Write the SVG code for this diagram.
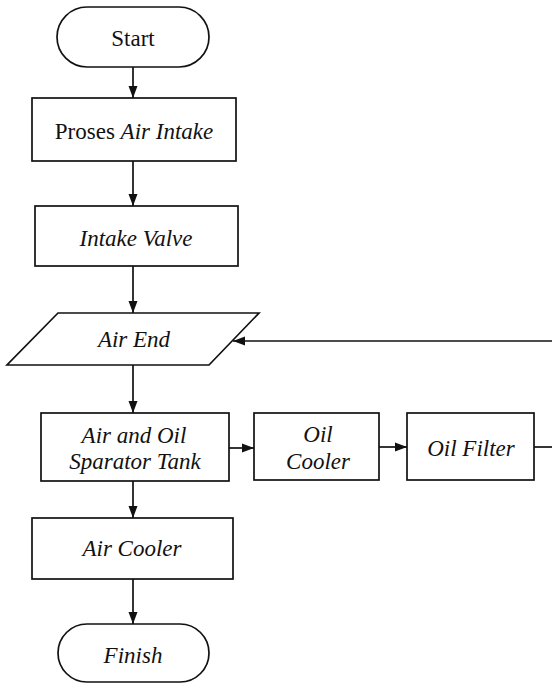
<svg xmlns="http://www.w3.org/2000/svg" width="552" height="684" viewBox="0 0 552 684">
<style>
.n{fill:#fff;stroke:#111;stroke-width:1.7}
.t{font-family:"Liberation Serif","Times New Roman",serif;font-size:23px;fill:#111;text-anchor:middle}
.i{font-style:italic}
.c{fill:none;stroke:#111;stroke-width:1.7}
</style>
<defs>
<marker id="ah" viewBox="0 0 12 10" refX="12" refY="5" markerWidth="12" markerHeight="10" markerUnits="userSpaceOnUse" orient="auto">
<path d="M0,0.5 L12,5 L0,9.5 Z" fill="#111"/>
</marker>
</defs>
<rect width="552" height="684" fill="#fff"/>
<g id="connectors">
<line class="c" x1="133" y1="67" x2="133" y2="98" marker-end="url(#ah)"/>
<line class="c" x1="133" y1="161" x2="133" y2="206" marker-end="url(#ah)"/>
<line class="c" x1="133" y1="266" x2="133" y2="313" marker-end="url(#ah)"/>
<line class="c" x1="133" y1="365" x2="133" y2="413" marker-end="url(#ah)"/>
<line class="c" x1="229" y1="448" x2="254" y2="448" marker-end="url(#ah)"/>
<line class="c" x1="379" y1="447" x2="407" y2="447" marker-end="url(#ah)"/>
<line class="c" x1="534" y1="447" x2="552" y2="447"/>
<line class="c" x1="552" y1="341" x2="233" y2="341" marker-end="url(#ah)"/>
<line class="c" x1="133" y1="481" x2="133" y2="518" marker-end="url(#ah)"/>
<line class="c" x1="133" y1="579" x2="133" y2="624" marker-end="url(#ah)"/>
</g>
<g id="start">
<rect class="n" x="57" y="7" width="152" height="60" rx="30"/>
<text class="t" x="133" y="46">Start</text>
</g>
<g id="proses">
<rect class="n" x="32" y="98" width="204" height="63"/>
<text class="t" x="134" y="139">Proses <tspan class="i">Air Intake</tspan></text>
</g>
<g id="intake-valve">
<rect class="n" x="35" y="206" width="203" height="60"/>
<text class="t i" x="136" y="246">Intake Valve</text>
</g>
<g id="air-end">
<polygon class="n" points="58,313 259,313 209,365 7,365"/>
<text class="t i" x="134" y="347">Air End</text>
</g>
<g id="separator">
<rect class="n" x="41" y="413" width="188" height="68"/>
<text class="t i" x="134" y="443">Air and Oil</text>
<text class="t i" x="135" y="469">Sparator Tank</text>
</g>
<g id="oil-cooler">
<rect class="n" x="254" y="413" width="125" height="67"/>
<text class="t i" x="318" y="442">Oil</text>
<text class="t i" x="318" y="469">Cooler</text>
</g>
<g id="oil-filter">
<rect class="n" x="407" y="413" width="127" height="67"/>
<text class="t i" x="471" y="456">Oil Filter</text>
</g>
<g id="air-cooler">
<rect class="n" x="32" y="518" width="201" height="61"/>
<text class="t i" x="132" y="556">Air Cooler</text>
</g>
<g id="finish">
<rect class="n" x="58" y="624" width="151" height="58" rx="29"/>
<text class="t i" x="133" y="663">Finish</text>
</g>
</svg>
